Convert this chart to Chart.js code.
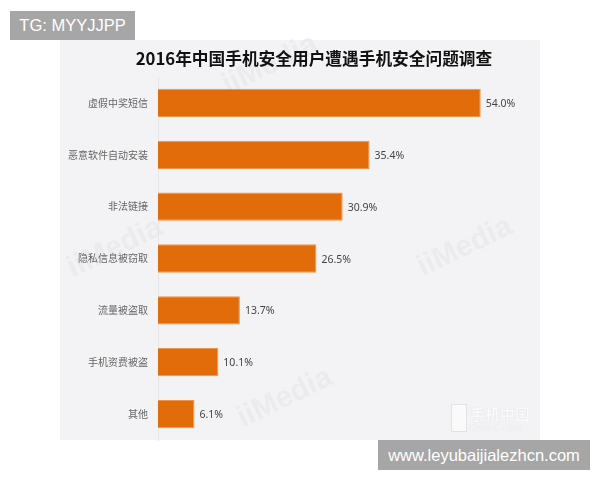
<!DOCTYPE html>
<html lang="zh">
<head>
<meta charset="utf-8">
<script src="https://cdn.jsdelivr.net/npm/chart.js@4"></script>
<style>
  html, body { margin: 0; padding: 0; background: #fff; }
  #wrap { position: relative; width: 600px; height: 480px; overflow: hidden; }
  #panel { position: absolute; left: 60px; top: 40px; width: 480px; height: 400px; background: #f3f3f5; }
  #grafico { position: absolute; left: 0; top: 0; }
  .tag { position: absolute; background: #a6a6a6; color: #fff; font-family: "Liberation Sans", sans-serif; font-size: 16.5px; text-align: center; }
  #tagTop { left: 10px; top: 11px; width: 125px; height: 29px; line-height: 29px; }
  #tagBottom { left: 378px; top: 440px; width: 212px; height: 30px; line-height: 30px; }
  #logo { position: absolute; left: 470px; top: 406px; color: #fafafb; text-shadow: 0 0 1px #cfcfd3; font-family: "Noto Sans CJK SC", sans-serif; line-height: 1; }
  #logo b { display: block; font-size: 15px; font-weight: 700; }
  #logo span { display: block; font-size: 10px; margin-top: 2px; font-family: "Liberation Sans", sans-serif; }
  #logoIcone { position: absolute; left: 451px; top: 404px; width: 14px; height: 26px; background: #fafafb; border: 1px solid #e2e2e5; }
</style>
</head>
<body>
<div id="wrap">
  <div id="panel"></div>
  <canvas id="grafico" width="600" height="480"></canvas>
  <div id="logoIcone"></div>
  <div id="logo"><b>手机中国</b><span>CNMO.com</span></div>
  <div class="tag" id="tagTop">TG: MYYJJPP</div>
  <div class="tag" id="tagBottom">www.leyubaijialezhcn.com</div>
</div>
<script>
const titulo = "2016年中国手机安全用户遭遇手机安全问题调查";
const categorias = ["虚假中奖短信", "恶意软件自动安装", "非法链接", "隐私信息被窃取", "流量被盗取", "手机资费被盗", "其他"];
const valores = [54.0, 35.4, 30.9, 26.5, 13.7, 10.1, 6.1];
const marcaDagua = "iiMedia";
const posicoesMarca = [[115, 248], [285, 398], [270, 65], [465, 247]];

// faint diagonal watermarks, painted before axes and bars
const pluginMarca = {
  id: "marca",
  beforeDraw(chart) {
    const ctx = chart.ctx;
    ctx.save();
    ctx.fillStyle = "#ebebee";
    ctx.font = "700 30px 'Liberation Sans', sans-serif";
    ctx.textAlign = "center";
    ctx.textBaseline = "middle";
    posicoesMarca.forEach(([x, y]) => {
      ctx.save();
      ctx.translate(x, y);
      ctx.rotate(-0.45);
      ctx.fillText(marcaDagua, 0, 0);
      ctx.restore();
    });
    ctx.restore();
  },
};

// percentage next to the end of each bar
const pluginRotulos = {
  id: "rotulos",
  afterDatasetsDraw(chart) {
    const ctx = chart.ctx;
    ctx.save();
    ctx.fillStyle = "#444";
    ctx.font = "10.5px 'Noto Sans', sans-serif";
    ctx.textAlign = "left";
    ctx.textBaseline = "middle";
    chart.getDatasetMeta(0).data.forEach((barra, i) => {
      ctx.fillText(valores[i].toFixed(1) + "%", barra.x + 5, barra.y + 1);
    });
    ctx.restore();
  },
};

new Chart(document.getElementById("grafico"), {
  type: "bar",
  data: {
    labels: categorias,
    datasets: [
      {
        data: valores,
        backgroundColor: "#e36c0a",
        borderColor: "#ee9448",
        borderWidth: 1,
        barPercentage: 0.62,
        categoryPercentage: 0.88,
      },
    ],
  },
  plugins: [pluginMarca, pluginRotulos],
  options: {
    indexAxis: "y",
    responsive: false,
    animation: false,
    // right padding is small so the title centres on x=314 like the picture
    layout: { padding: { left: 60, right: 32, top: 49, bottom: 40 } },
    plugins: {
      legend: { display: false },
      tooltip: { enabled: false },
      title: {
        display: true,
        text: titulo,
        color: "#111",
        font: { family: "'Noto Sans CJK SC'", size: 16.7, weight: "700" },
        padding: { top: 0, bottom: 8 },
      },
    },
    scales: {
      x: { display: false, min: 0, max: 68.6 },
      y: {
        afterFit(escala) {
          escala.width = 98;
        },
        grid: { display: false, drawTicks: false },
        border: { color: "#e6e6e9", width: 1 },
        ticks: {
          color: "#666",
          padding: 10,
          font: { family: "'Noto Sans CJK SC'", size: 10 },
        },
      },
    },
  },
});
</script>
</body>
</html>
